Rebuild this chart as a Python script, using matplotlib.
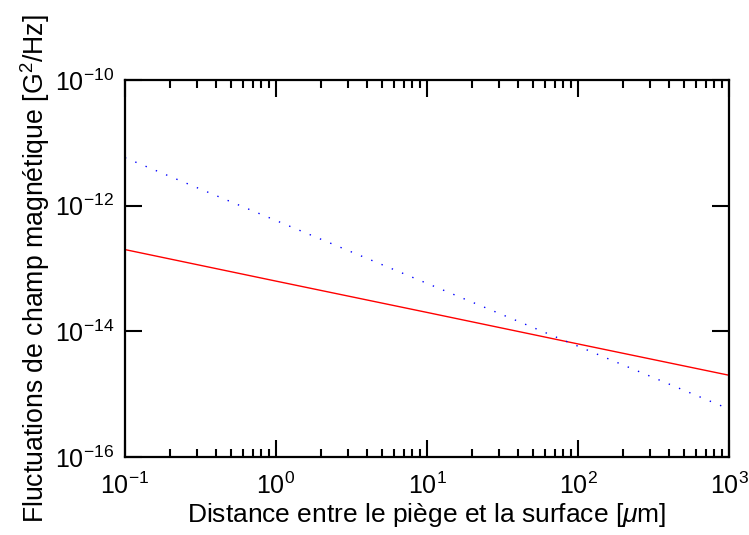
import numpy as np
import matplotlib.pyplot as plt
from matplotlib.ticker import LogLocator, NullLocator, LogFormatterMathtext

plt.rcParams['font.family'] = ['Liberation Sans', 'DejaVu Sans']
plt.rcParams['mathtext.fontset'] = 'custom'
plt.rcParams['mathtext.rm'] = 'Liberation Sans'
plt.rcParams['mathtext.it'] = 'Liberation Sans:italic'

# distance (um) and noise values
distance = [0.1, 1, 10, 100, 1000]
red_noise = [2.0e-13, 6.3e-14, 2.0e-14, 6.3e-15, 2.0e-15]
blue_noise = [5.8e-12, 5.8e-13, 5.8e-14, 5.8e-15, 5.8e-16]
x_ticks = [1e-1, 1e0, 1e1, 1e2, 1e3]
y_ticks = [1e-16, 1e-14, 1e-12, 1e-10]

fig = plt.figure(figsize=(7.49, 5.35), dpi=100)
ax = fig.add_axes([125 / 749, 1 - 457 / 535, 604 / 749, 377 / 535])

ax.loglog(distance, red_noise, color='red', lw=1.0)
ax.loglog(distance, blue_noise, color='blue', lw=1.0, linestyle=(0, (1, 7)))

ax.set_xlim(0.1, 1000)
ax.set_ylim(1e-16, 1e-10)

ax.set_xticks(x_ticks)
ax.set_yticks(y_ticks)
ax.xaxis.set_minor_locator(LogLocator(base=10, subs=np.arange(2, 10), numticks=20))
ax.yaxis.set_minor_locator(NullLocator())
ax.xaxis.set_major_formatter(LogFormatterMathtext())
ax.yaxis.set_major_formatter(LogFormatterMathtext())

ax.tick_params(which='both', direction='in', top=True, right=True, labelsize=18, width=1.5)
ax.tick_params(which='major', length=12)
ax.tick_params(axis='x', which='major', pad=11)
ax.tick_params(axis='y', which='major', pad=8)
ax.tick_params(which='minor', length=6)
for s in ax.spines.values():
    s.set_linewidth(1.6)

ax.set_xlabel('Distance entre le piège et la surface [$\\mu$m]', fontsize=19, labelpad=1.5)
ax.set_ylabel('Fluctuations de champ magnétique [G$^2$/Hz]', fontsize=19.2, labelpad=2)

fig.savefig('out.png', dpi=100)
